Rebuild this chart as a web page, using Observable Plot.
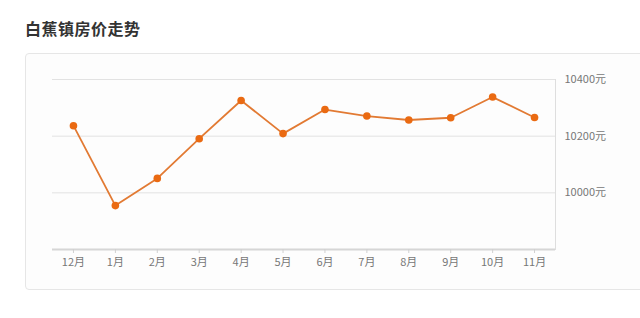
<!DOCTYPE html>
<html>
<head>
<meta charset="utf-8">
<script src="https://cdn.jsdelivr.net/npm/d3@7"></script>
<script src="https://cdn.jsdelivr.net/npm/@observablehq/plot@0.6"></script>
<style>
  html, body { margin: 0; padding: 0; background: #fff; width: 640px; height: 318px; overflow: hidden; position: relative; font-family: "Noto Sans CJK SC", "Noto Sans", sans-serif; }
  #title { position: absolute; left: 25px; top: 16px; font-size: 16px; font-weight: bold; color: #333; letter-spacing: 0.5px; }
  #card { position: absolute; left: 25px; top: 53px; width: 660px; height: 237px; border: 1px solid #e6e6e6; border-radius: 4px; background: #fdfdfd; box-sizing: border-box; }
  #chart { position: absolute; left: 0; top: 0; }
</style>
</head>
<body>
<div id="title">白蕉镇房价走势</div>
<div id="card"></div>
<div id="chart"></div>
<script>
const months = ["12月","1月","2月","3月","4月","5月","6月","7月","8月","9月","10月","11月"];
const prices = [10237, 9955, 10051, 10191, 10326, 10209, 10294, 10271, 10257, 10265, 10338, 10266];
const yTicks = [10000, 10200, 10400];
const yDomain = [9800, 10400];

const data = months.map((m, i) => ({month: m, price: prices[i]}));

const chart = Plot.plot({
  width: 640,
  height: 300,
  marginLeft: 52,
  marginRight: 85,
  marginTop: 79,
  marginBottom: 51,
  style: {background: "transparent", fontFamily: "'Noto Sans CJK SC', 'Noto Sans', sans-serif", fontSize: "11px"},
  x: {type: "point", domain: months, padding: 0.5, round: false},
  y: {domain: yDomain},
  marks: [
    Plot.ruleY(yTicks, {stroke: "#e2e2e2", strokeWidth: 1}),
    Plot.frame({anchor: "right", stroke: "#dedede"}),
    Plot.ruleY([yDomain[0]], {stroke: "#d6d6d6", strokeWidth: 2}),
    Plot.axisX({tickSize: 4, tickPadding: 5, stroke: "#d0d0d0", fill: "#777", label: null}),
    Plot.axisY({anchor: "right", ticks: yTicks, tickSize: 0, tickPadding: 9, tickFormat: d => d + "元", fill: "#777", label: null}),
    Plot.line(data, {x: "month", y: "price", stroke: "#e27a33", strokeWidth: 1.8}),
    Plot.dot(data, {x: "month", y: "price", r: 3.8, fill: "#ea6a12", stroke: "none"})
  ]
});
document.getElementById("chart").appendChild(chart);
</script>
</body>
</html>
